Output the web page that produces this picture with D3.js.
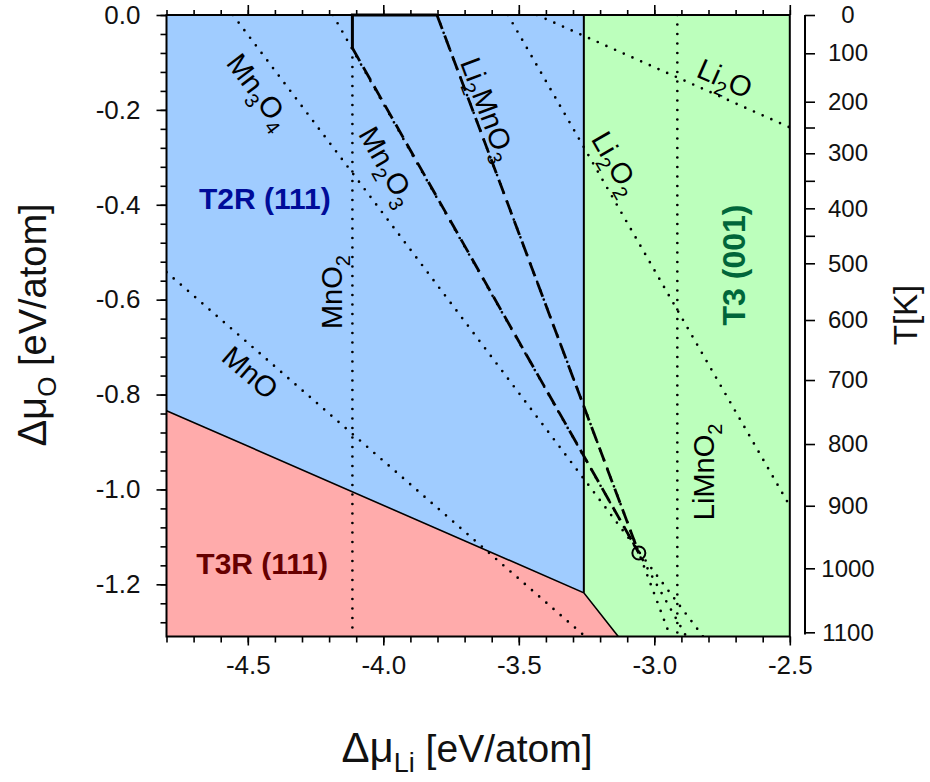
<!DOCTYPE html>
<html>
<head>
<meta charset="utf-8">
<script src="https://cdn.jsdelivr.net/npm/d3@7"></script>
<style>
  html, body { margin: 0; padding: 0; background: #fff; }
  svg text { font-family: "Liberation Sans", Arial, sans-serif; }
</style>
</head>
<body>
<svg id="chart" width="930" height="782"></svg>
<script>
// ---------------- DATA ----------------
const xTickLabels = [-4.5, -4.0, -3.5, -3.0, -2.5];
const yTickLabels = [0.0, -0.2, -0.4, -0.6, -0.8, -1.0, -1.2];
const tempTicks   = [0, 100, 200, 300, 400, 500, 600, 700, 800, 900, 1000, 1100];
const tempDmuO    = [0, -0.0807, -0.1828, -0.2915, -0.4075, -0.5234, -0.6429, -0.7694, -0.9043, -1.0344, -1.1663, -1.3012];
const tempMinor   = [250, 350, 450];

const regionT2R = [[-4.8, 0], [-3.26, 0], [-3.26, -1.218], [-4.8, -0.834]];
const regionT3R = [[-4.8, -0.834], [-3.26, -1.218], [-3.133, -1.31], [-4.8, -1.31]];
const regionT3  = [[-3.26, 0], [-2.5, 0], [-2.5, -1.31], [-3.133, -1.31], [-3.26, -1.218]];

const dotMnO2    = [[-4.114, -0.0696], [-4.114, -1.31]];
const dotLiMnO2  = [[-2.915, 0], [-2.915, -1.31]];
const dotMn3O4   = [[-4.555, 0], [-2.82, -1.31]];
const dotMn2O3   = [[-4.186, 0], [-2.882, -1.31]];
const dotLi2MnO3 = [[-3.802, 0], [-2.941, -1.31]];
const dotMnO     = [[-4.8, -0.542], [-3.255, -1.31]];
const dotLi2O    = [[-3.433, 0], [-2.5, -0.237]];
const dotLi2O2   = [[-3.540, 0], [-2.5, -1.035]];

const dashMn2O3   = [[-4.114, -0.0696], [-3.057, -1.134]];
const dashLi2MnO3 = [[-3.802, 0], [-3.057, -1.134]];
const solidTop    = [[-4.114, -0.0696], [-4.114, 0], [-3.802, 0]];
const boundaryT3R = [[-4.8, -0.834], [-3.26, -1.218], [-3.133, -1.31]];
const boundaryT3  = [[-3.26, 0], [-3.26, -1.218]];
const triplePoint = [-3.057, -1.134];

// labels: [parts], data position, angle
const phaseLabels = [
  { parts: [["Mn"], ["3", 1], ["O"], ["4", 1]], pos: [-4.458, -0.160], angle: 52.9 },
  { parts: [["Mn"], ["2", 1], ["O"], ["3", 1]], pos: [-3.983, -0.318], angle: 60.5 },
  { parts: [["Li"], ["2", 1], ["MnO"], ["3", 1]], pos: [-3.612, -0.198], angle: 69.5 },
  { parts: [["Li"], ["2", 1], ["O"], ["2", 1]], pos: [-3.140, -0.312], angle: 60.1 },
  { parts: [["Li"], ["2", 1], ["O"]], pos: [-2.739, -0.133], angle: 23.7 },
  { parts: [["MnO"]], pos: [-4.490, -0.753], angle: 41 },
  { parts: [["MnO"], ["2", 1]], pos: [-4.190, -0.584], angle: -90 },
  { parts: [["LiMnO"], ["2", 1]], pos: [-2.818, -0.963], angle: -90 }
];
const regionLabels = [
  { text: "T2R (111)", pos: [-4.437, -0.386], angle: 0, color: "#000c99", size: 30 },
  { text: "T3R (111)", pos: [-4.447, -1.155], angle: 0, color: "#660000", size: 30 },
  { text: "T3 (001)",  pos: [-2.708, -0.527], angle: -90, color: "#00663a", size: 32 }
];

// ---------------- CHART ----------------
const svg = d3.select("#chart");
const x = d3.scaleLinear().domain([-4.8, -2.5]).range([166.5, 789.8]);
const y = d3.scaleLinear().domain([0, -1.31]).range([15, 636.5]);
const tScale = d3.scaleLinear().domain(tempTicks).range(tempDmuO.map(v => y(v)));

svg.append("defs").append("clipPath").attr("id", "plotclip")
  .append("rect").attr("x", x(-4.8)).attr("y", y(0))
  .attr("width", x(-2.5) - x(-4.8)).attr("height", y(-1.31) - y(0));

const line = d3.line().x(d => x(d[0])).y(d => y(d[1]));
const plot = svg.append("g").attr("clip-path", "url(#plotclip)");

plot.append("path").attr("d", line(regionT2R) + "Z").attr("fill", "#a0ccff");
plot.append("path").attr("d", line(regionT3R) + "Z").attr("fill", "#ffabab");
plot.append("path").attr("d", line(regionT3) + "Z").attr("fill", "#bcffbc");

// dotted lines
[dotMnO2, dotLiMnO2, dotMn3O4, dotMn2O3, dotLi2MnO3, dotMnO, dotLi2O, dotLi2O2].forEach(seg => {
  plot.append("path").attr("d", line(seg)).attr("fill", "none")
    .attr("stroke", "#000").attr("stroke-width", 2.7)
    .attr("stroke-linecap", "round").attr("stroke-dasharray", "0,9.5");
});

// boundaries
plot.append("path").attr("d", line(boundaryT3R)).attr("fill", "none")
  .attr("stroke", "#000").attr("stroke-width", 1.6);
plot.append("path").attr("d", line(boundaryT3)).attr("fill", "none")
  .attr("stroke", "#000").attr("stroke-width", 2);

// dashed
plot.append("path").attr("d", line(dashMn2O3)).attr("fill", "none")
  .attr("stroke", "#000").attr("stroke-width", 2.8).attr("stroke-dasharray", "15,7");
plot.append("path").attr("d", line(dashLi2MnO3)).attr("fill", "none")
  .attr("stroke", "#000").attr("stroke-width", 2.8).attr("stroke-dasharray", "15,7");
svg.append("path").attr("d", line(solidTop)).attr("fill", "none")
  .attr("stroke", "#000").attr("stroke-width", 3);

plot.append("circle").attr("cx", x(triplePoint[0])).attr("cy", y(triplePoint[1]))
  .attr("r", 6.5).attr("fill", "none").attr("stroke", "#000").attr("stroke-width", 2);

// phase labels
phaseLabels.forEach(l => {
  const t = svg.append("text")
    .attr("transform", `translate(${x(l.pos[0])},${y(l.pos[1])}) rotate(${l.angle})`)
    .attr("text-anchor", "middle").attr("dy", "0.36em")
    .attr("font-size", 29).attr("fill", "#000");
  let shifted = false;
  l.parts.forEach(p => {
    const ts = t.append("tspan").text(p[0]);
    if (p[1]) { ts.attr("font-size", 20).attr("dy", 8); shifted = true; }
    else if (shifted) { ts.attr("dy", -8); shifted = false; }
  });
});

regionLabels.forEach(l => {
  svg.append("text")
    .attr("transform", `translate(${x(l.pos[0])},${y(l.pos[1])}) rotate(${l.angle})`)
    .attr("text-anchor", "middle").attr("dy", "0.36em")
    .attr("font-size", l.size).attr("font-weight", "bold").attr("fill", l.color)
    .text(l.text);
});

// frame
svg.append("rect").attr("x", x(-4.8)).attr("y", y(0))
  .attr("width", x(-2.5) - x(-4.8)).attr("height", y(-1.31) - y(0))
  .attr("fill", "none").attr("stroke", "#000").attr("stroke-width", 2);

// axes
const fmt = d => d.toFixed(1);
const xMinor = d3.range(-4.8, -2.45, 0.1).map(v => +v.toFixed(2));
const yMinor = d3.range(0, -1.30, -0.04).map(v => +v.toFixed(2));

function styleAxis(g) {
  g.select(".domain").remove();
  g.selectAll("line").attr("stroke", "#000").attr("stroke-width", 1.6);
  g.selectAll("text").attr("font-size", 26).attr("fill", "#111")
    .attr("font-family", "'Liberation Sans', Arial, sans-serif");
}

const gBottom = svg.append("g").attr("transform", `translate(0,${y(-1.31)})`);
gBottom.append("g").call(d3.axisBottom(x).tickValues(xMinor).tickSize(6).tickFormat("")).call(styleAxis);
gBottom.append("g").call(d3.axisBottom(x).tickValues(xTickLabels).tickSize(9).tickPadding(10).tickFormat(fmt)).call(styleAxis);

const gTop = svg.append("g").attr("transform", `translate(0,${y(0)})`);
gTop.append("g").call(d3.axisTop(x).tickValues(xMinor).tickSize(5).tickFormat("")).call(styleAxis);
gTop.append("g").call(d3.axisTop(x).tickValues(xTickLabels).tickSize(10).tickFormat("")).call(styleAxis);

const gLeft = svg.append("g").attr("transform", `translate(${x(-4.8)},0)`);
gLeft.append("g").call(d3.axisLeft(y).tickValues(yMinor).tickSize(6).tickFormat("")).call(styleAxis);
gLeft.append("g").call(d3.axisLeft(y).tickValues(yTickLabels).tickSize(10).tickPadding(16).tickFormat(fmt)).call(styleAxis);

// right temperature axis
const gRight = svg.append("g").attr("transform", "translate(805,0)");
gRight.append("line").attr("x1", 0).attr("x2", 0).attr("y1", y(0)).attr("y2", y(-1.306))
  .attr("stroke", "#000").attr("stroke-width", 2);
gRight.append("g").call(d3.axisRight(tScale).tickValues(tempMinor).tickSize(10).tickFormat("")).call(styleAxis);
const rAx = gRight.append("g").call(d3.axisRight(tScale).tickValues(tempTicks).tickSize(10).tickFormat(d3.format("d"))).call(styleAxis);
rAx.selectAll("text").attr("font-size", 24).attr("text-anchor", "middle").attr("x", 43);

// titles
const xt = svg.append("text").attr("x", 467).attr("y", 762).attr("text-anchor", "middle")
  .attr("font-size", 39).attr("fill", "#111");
xt.append("tspan").text("\u0394\u03bc").attr("font-size", 42);
xt.append("tspan").text("Li").attr("font-size", 27).attr("dy", 10);
xt.append("tspan").text(" [eV/atom]").attr("dy", -10);

const yt = svg.append("text").attr("transform", "translate(46,325) rotate(-90)")
  .attr("text-anchor", "middle").attr("font-size", 38).attr("fill", "#111");
yt.append("tspan").text("\u0394\u03bc").attr("font-size", 40);
yt.append("tspan").text("O").attr("font-size", 26).attr("dy", 10);
yt.append("tspan").text(" [eV/atom]").attr("dy", -10);

svg.append("text").attr("transform", "translate(917,315) rotate(-90)")
  .attr("text-anchor", "middle").attr("font-size", 33).attr("fill", "#111").text("T[K]");
</script>
</body>
</html>
